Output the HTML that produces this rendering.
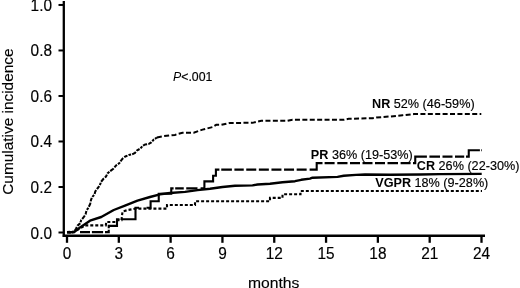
<!DOCTYPE html>
<html><head><meta charset="utf-8"><title>Cumulative incidence</title>
<style>
html,body{margin:0;padding:0;background:#fff;}
body{width:520px;height:288px;overflow:hidden;}
svg{display:block;will-change:transform;}
text{font-family:"Liberation Sans",sans-serif;fill:#000;stroke:#000;stroke-width:0.15px;}
.ax{font-size:15.4px;}
.lb{font-size:12.65px;}
.lb tspan{stroke-width:0;}
.c{fill:none;stroke:#000;stroke-width:2.10;stroke-linejoin:miter;stroke-linecap:butt;}
</style></head><body>
<svg width="520" height="288" viewBox="0 0 520 288">
<rect x="0" y="0" width="520" height="288" fill="#fff"/>
<path d="M63.8 1 V236.9" stroke="#000" stroke-width="2.3" fill="none"/>
<path d="M62.65 235.7 H485" stroke="#000" stroke-width="2.5" fill="none"/>
<path d="M58.5 232.50 H63" stroke="#000" stroke-width="2"/>
<text transform="translate(52.00 238.50) scale(1 1.070)" text-anchor="end" class="ax">0.0</text>
<path d="M58.5 186.99 H63" stroke="#000" stroke-width="2"/>
<text transform="translate(52.00 192.99) scale(1 1.070)" text-anchor="end" class="ax">0.2</text>
<path d="M58.5 141.48 H63" stroke="#000" stroke-width="2"/>
<text transform="translate(52.00 147.48) scale(1 1.070)" text-anchor="end" class="ax">0.4</text>
<path d="M58.5 95.97 H63" stroke="#000" stroke-width="2"/>
<text transform="translate(52.00 101.97) scale(1 1.070)" text-anchor="end" class="ax">0.6</text>
<path d="M58.5 50.46 H63" stroke="#000" stroke-width="2"/>
<text transform="translate(52.00 56.46) scale(1 1.070)" text-anchor="end" class="ax">0.8</text>
<path d="M58.5 4.95 H63" stroke="#000" stroke-width="2"/>
<text transform="translate(52.00 10.95) scale(1 1.070)" text-anchor="end" class="ax">1.0</text>
<path d="M67.00 236 V242.8" stroke="#000" stroke-width="2.3"/>
<text transform="translate(67.00 258.90) scale(1 1.070)" text-anchor="middle" class="ax">0</text>
<path d="M118.81 236 V242.8" stroke="#000" stroke-width="2.3"/>
<text transform="translate(118.81 258.90) scale(1 1.070)" text-anchor="middle" class="ax">3</text>
<path d="M170.62 236 V242.8" stroke="#000" stroke-width="2.3"/>
<text transform="translate(170.62 258.90) scale(1 1.070)" text-anchor="middle" class="ax">6</text>
<path d="M222.44 236 V242.8" stroke="#000" stroke-width="2.3"/>
<text transform="translate(222.44 258.90) scale(1 1.070)" text-anchor="middle" class="ax">9</text>
<path d="M274.25 236 V242.8" stroke="#000" stroke-width="2.3"/>
<text transform="translate(274.25 258.90) scale(1 1.070)" text-anchor="middle" class="ax">12</text>
<path d="M326.06 236 V242.8" stroke="#000" stroke-width="2.3"/>
<text transform="translate(326.06 258.90) scale(1 1.070)" text-anchor="middle" class="ax">15</text>
<path d="M377.88 236 V242.8" stroke="#000" stroke-width="2.3"/>
<text transform="translate(377.88 258.90) scale(1 1.070)" text-anchor="middle" class="ax">18</text>
<path d="M429.69 236 V242.8" stroke="#000" stroke-width="2.3"/>
<text transform="translate(429.69 258.90) scale(1 1.070)" text-anchor="middle" class="ax">21</text>
<path d="M481.50 236 V242.8" stroke="#000" stroke-width="2.3"/>
<text transform="translate(481.50 258.90) scale(1 1.070)" text-anchor="middle" class="ax">24</text>
<text transform="translate(273.70 287.70) scale(1 0.990)" text-anchor="middle" class="ax" style="font-size:15.7px">months</text>
<text transform="translate(12.50 121.60) rotate(-90) scale(1 1.000)" text-anchor="middle" class="ax">Cumulative incidence</text>
<path d="M67.00 232.30 L70.52 232.60 L74.00 232.00 L76.00 228.75 L77.50 225.69 L80.12 223.37 L81.25 220.06 L83.50 217.50 L85.57 214.37 L86.43 210.63 L88.50 207.50 L90.18 203.89 L91.00 200.00 L92.17 196.97 L94.52 194.59 L95.29 191.34 L97.25 188.75 L99.71 185.66 L101.04 181.84 L103.50 178.75 L106.01 176.54 L107.49 173.46 L110.00 171.25 L113.31 168.70 L116.00 165.50 L119.40 163.00 L122.50 158.70 L125.40 156.46 L128.75 155.00 L132.02 154.38 L135.00 152.90 L137.20 150.27 L140.30 148.63 L142.50 146.00 L145.25 144.38 L148.50 144.02 L151.25 142.40 L153.78 139.61 L156.90 137.50" class="c" style="stroke-width:2.05" stroke-dasharray="3.6 1.2 2.6 1.1 4.4 1.3"/>
<path d="M156.90 137.50 L163.75 136.10 L175.00 134.90 L177.50 134.00 L182.50 132.80 L193.75 132.70 L202.50 129.60 L212.50 127.10 L216.25 124.80 L221.25 124.90 L230.00 122.90 L252.50 122.85 L261.25 120.85 L287.50 120.85 L292.50 119.85 L343.75 119.85 L348.75 118.85 L372.50 118.20 L376.25 117.50 L390.00 116.50 L402.50 115.20 L413.75 114.10 L481.30 113.90" class="c" style="stroke-width:2" stroke-dasharray="5 2.4"/>
<path d="M67.00 232.30 L74.50 231.90 L80.00 227.40 L90.00 220.70 L101.25 217.00 L113.75 210.00 L125.00 205.60 L137.50 200.70 L150.00 197.00 L160.00 194.30 L170.00 193.00 L185.00 191.90 L197.50 190.10 L210.00 188.80 L222.50 187.00 L235.00 185.80 L252.50 185.40 L257.50 184.50 L270.00 183.80 L282.50 182.30 L295.00 181.20 L301.25 179.80 L310.00 178.60 L312.50 177.70 L337.50 176.90 L343.75 175.80 L356.00 174.90 L365.00 174.50 L390.00 174.70 L420.00 174.50 L440.00 174.10 L481.70 173.90" class="c" style="stroke-width:2.4;stroke-linejoin:round"/>
<path d="M67.00 232.10 L75.00 232.10 M80.00 232.10 L90.00 232.10 M91.90 232.10 L103.10 232.10 M105.00 232.10 L108.75 232.10 L108.75 229.70 M108.75 228.20 L108.75 225.90 L117.00 225.90 L117.00 219.30 L119.50 219.30 M121.90 219.30 L135.50 219.30 L135.50 207.80 L139.00 207.80 M146.50 207.80 L150.60 207.80 L150.60 201.30 L158.75 201.30 L158.75 193.80 L171.25 193.80 L171.25 188.40 L173.60 188.40 M175.20 188.40 L183.75 188.40 M186.25 188.40 L197.50 188.40 M200.60 188.40 L204.40 188.40 L204.40 181.40 L213.10 181.40 L213.10 175.70 L215.90 175.70 L215.90 169.60 L219.40 169.60 M221.25 169.60 L231.90 169.60 M234.40 169.60 L243.75 169.60 M246.25 169.60 L256.25 169.60 M258.85 169.60 L268.85 169.60 M271.45 169.60 L281.45 169.60 M284.05 169.60 L294.05 169.60 M296.65 169.60 L306.65 169.60 M309.60 169.60 L316.70 169.60 L316.70 163.10 L322.50 163.10 M324.60 163.10 L334.60 163.10 M337.30 163.10 L347.50 163.10 M350.00 163.10 L360.00 163.10 M362.50 163.10 L372.50 163.10 M375.00 163.10 L385.00 163.10 M387.50 163.10 L398.00 163.10 M400.60 163.10 L410.60 163.10 M413.00 163.10 L415.25 163.10 L415.25 156.60 L426.90 156.60 M429.40 156.60 L440.00 156.60 M442.50 156.60 L452.50 156.60 M455.00 156.60 L464.20 156.60 M466.00 156.60 L468.75 156.60 L468.75 150.20 L479.90 150.20 M481.00 150.20 L481.70 150.20" class="c"/>
<path d="M67.00 232.00 L75.00 231.50 L85.00 225.40 L105.80 225.40 L106.30 222.00 L115.50 222.00 L117.00 220.20 L121.50 220.20 L122.50 211.50 L128.00 210.00 L136.00 208.60 L167.00 208.60 L167.00 205.00 L195.00 205.00 L195.00 201.30 L270.00 201.30 L270.00 197.90 L282.50 197.90 L282.50 194.30 L300.50 194.30 L300.50 191.00 L482.00 191.00" class="c" stroke-dasharray="3 2"/>
<text transform="translate(173.00 80.80) scale(1 1.070)" text-anchor="start" class="lb" style="font-size:12.35px"><tspan font-style="italic">P</tspan>&lt;.001</text>
<text transform="translate(372.00 107.90) scale(1 1.070)" text-anchor="start" class="lb"><tspan font-weight="bold">NR</tspan> 52% (46-59%)</text>
<text transform="translate(310.80 158.50) scale(1 1.070)" text-anchor="start" class="lb"><tspan font-weight="bold">PR</tspan> 36% (19-53%)</text>
<text transform="translate(416.80 170.40) scale(1 1.070)" text-anchor="start" class="lb"><tspan font-weight="bold">CR</tspan> 26% (22-30%)</text>
<text transform="translate(375.20 186.50) scale(1 1.070)" text-anchor="start" class="lb"><tspan font-weight="bold">VGPR</tspan> 18% (9-28%)</text>
</svg>
</body></html>
